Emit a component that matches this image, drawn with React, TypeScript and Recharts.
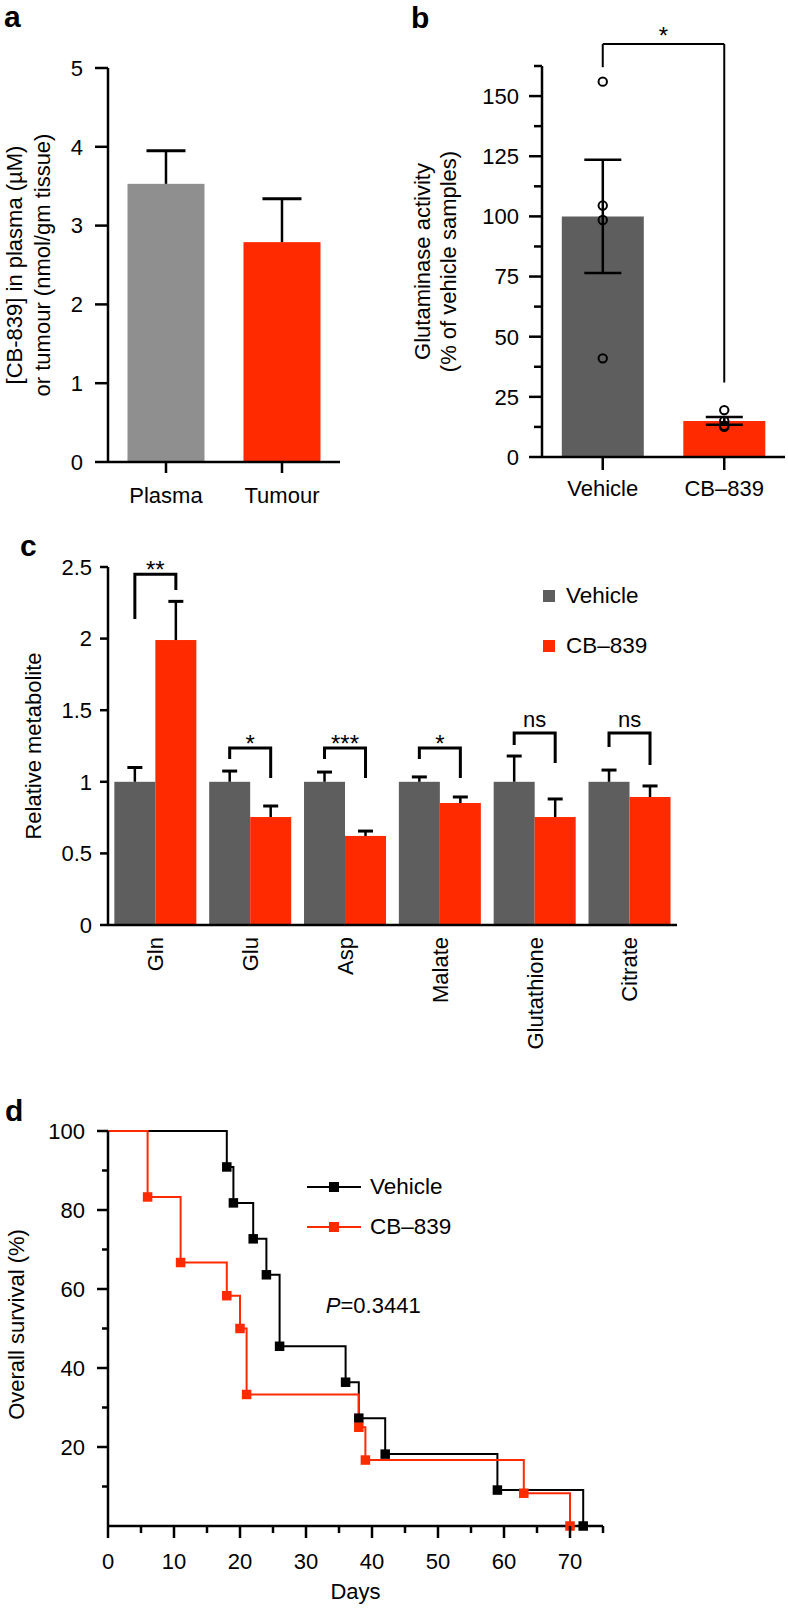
import React from 'react';
import {
  BarChart, Bar, ComposedChart, LineChart, Line, XAxis, YAxis, Cell,
  ErrorBar, Scatter, ReferenceLine, ReferenceDot, Legend,
} from 'recharts';

const FONT = '"Liberation Sans", Arial, Helvetica, sans-serif';
const RED = '#ff2a00';
const DARK = '#5e5e5e';
const LIGHT = '#8f8f8f';
const BLACK = '#000';
const AXIS = { stroke: BLACK, strokeWidth: 2.5 };

// ---------- Panel a ----------
const aCategories = ['Plasma', 'Tumour'];
const aValues = [3.53, 2.79];
const aErrors = [0.42, 0.55];
const aColors = [LIGHT, RED];
const aTicks = [0, 1, 2, 3, 4, 5];
const aTitle = ['[CB-839] in plasma (\u00b5M)', 'or tumour (nmol/gm tissue)'];

// ---------- Panel b ----------
const bCategories = ['Vehicle', 'CB\u2013839'];
const bValues = [100, 15];
const bErrors = [23.5, 1.6];
const bPoint1 = [156, 19.5];
const bPoint2 = [104.5, 15];
const bPoint3 = [98.5, 12.5];
const bPoint4 = [41, 13];
const bColors = [DARK, RED];
const bTicks = [0, 12.5, 25, 37.5, 50, 62.5, 75, 87.5, 100, 112.5, 125, 137.5, 150, 162.5];
const bBracketTop = 171.6;
const bBracketLeftEnd = 162;
const bBracketRightEnd = 31;
const bSignif = '*';
const bTitle = ['Glutaminase activity', '(% of vehicle samples)'];

// ---------- Panel c ----------
const cCategories = ['Gln', 'Glu', 'Asp', 'Malate', 'Glutathione', 'Citrate'];
const cVehicle = [1, 1, 1, 1, 1, 1];
const cVehicleErr = [0.10, 0.075, 0.068, 0.034, 0.18, 0.082];
const cCB839 = [1.99, 0.754, 0.622, 0.852, 0.754, 0.894];
const cCB839Err = [0.27, 0.077, 0.034, 0.042, 0.126, 0.077];
const cSignif = ['**', '*', '***', '*', 'ns', 'ns'];
const cBracketTop = [2.45, 1.236, 1.236, 1.236, 1.341, 1.341];
const cBracketLeftEnd = [2.137, 1.159, 1.159, 1.159, 1.257, 1.243];
const cBracketRightEnd = [2.34, 1.026, 1.026, 1.026, 1.131, 1.117];
const cTicks = [0, 0.5, 1, 1.5, 2, 2.5];
const cSeriesNames = ['Vehicle', 'CB\u2013839'];

// ---------- Panel d ----------
const dVehicleDays = [0, 18, 19, 22, 24, 26, 36, 38, 42, 59, 72];
const dVehicleSurvival = [100, 90.9, 81.8, 72.7, 63.6, 45.5, 36.4, 27.3, 18.2, 9.1, 0];
const dCB839Days = [0, 6, 11, 18, 20, 21, 38, 39, 63, 70];
const dCB839Survival = [100, 83.3, 66.7, 58.3, 50, 33.3, 25, 16.7, 8.3, 0];
const dXTicks = [0, 5, 10, 15, 20, 25, 30, 35, 40, 45, 50, 55, 60, 65, 70, 75];
const dYTicks = [10, 20, 30, 40, 50, 60, 70, 80, 90, 100];
const dPValueDay = 33;
const dPValueY = 56;

// ---------- data tables ----------
const aData = aCategories.map((name, i) => ({ name, value: aValues[i], err: aErrors[i] }));
const bData = bCategories.map((name, i) => ({
  name, value: bValues[i], err: bErrors[i],
  p1: bPoint1[i], p2: bPoint2[i], p3: bPoint3[i], p4: bPoint4[i],
}));
const cData = cCategories.map((name, i) => ({
  name, vehicle: cVehicle[i], vehicleErr: cVehicleErr[i], cb: cCB839[i], cbErr: cCB839Err[i],
}));
const dVehicle = dVehicleDays.map((day, i) => ({ day, surv: dVehicleSurvival[i] }));
const dCB839 = dCB839Days.map((day, i) => ({ day, surv: dCB839Survival[i] }));

// ---------- helpers ----------
const makeYTick = (cfg: any) => (props: any) => {
  const { x, y, payload } = props;
  const v = Number(payload.value);
  const major = cfg.major(v);
  const len = major ? cfg.majorLen : cfg.minorLen;
  return (
    <g>
      {len > 0 && <line x1={x - len} x2={x} y1={y} y2={y} stroke={BLACK} strokeWidth={2.5} />}
      {major && (
        <text x={x - len - cfg.gap} y={y} dy="0.355em" textAnchor="end" fontSize={cfg.fontSize}
          fontFamily={FONT} fill={BLACK}>{String(v)}</text>
      )}
    </g>
  );
};

const makeXTick = (cfg: any) => (props: any) => {
  const { x, y, payload } = props;
  const v = payload.value;
  const major = cfg.major(v);
  const len = major ? cfg.majorLen : cfg.minorLen;
  return (
    <g>
      {len > 0 && <line x1={x} x2={x} y1={y} y2={y + len} stroke={BLACK} strokeWidth={2.5} />}
      {major && (
        <text x={x} y={y + len + cfg.gap} dy="0.71em" textAnchor="middle" fontSize={cfg.fontSize}
          fontFamily={FONT} fill={BLACK}>{String(v)}</text>
      )}
    </g>
  );
};

const cXTick = (props: any) => {
  const { x, y, payload } = props;
  const ty = y + 12;
  return (
    <text x={x} y={ty} dy="0.355em" textAnchor="end" transform={`rotate(-90 ${x} ${ty})`}
      fontSize={22} fontFamily={FONT} fill={BLACK}>{payload.value}</text>
  );
};

const rotatedTitle = (lines: string[], xOffsets: number[], fontSize: number, dyc = 0) => (props: any) => {
  const vb = props && props.viewBox;
  if (!vb) return null;
  const cy = vb.y + vb.height / 2 + dyc;
  return (
    <g>
      {lines.map((t, i) => {
        const x = vb.x + xOffsets[i];
        return (
          <text key={i} x={x} y={cy} dy="0.355em" textAnchor="middle" transform={`rotate(-90 ${x} ${cy})`}
            fontSize={fontSize} fontFamily={FONT} fill={BLACK}>{t}</text>
        );
      })}
    </g>
  );
};

// Bar shape with one-sided (upper) error bar, optional extra annotation
const makeErrShape = (valueKey: string, errKey: string, capHalf: number, colors: string[] | null, extra?: any) =>
  (props: any) => {
    const { x, y, width, height, payload } = props;
    const idx = cCategories.indexOf(payload.name) >= 0 ? cCategories.indexOf(payload.name) : aCategories.indexOf(payload.name);
    const fill = colors ? colors[idx] : props.fill;
    const v = payload[valueKey];
    const e = payload[errKey];
    const base = y + height;
    const ppu = height / v;
    const yOf = (t: number) => base - t * ppu;
    const cx = x + width / 2;
    const ey = yOf(v + e);
    return (
      <g>
        <rect x={x} y={y} width={width} height={height} fill={fill} />
        <line x1={cx} x2={cx} y1={y} y2={ey} stroke={BLACK} strokeWidth={2.5} />
        <line x1={cx - capHalf} x2={cx + capHalf} y1={ey} y2={ey} stroke={BLACK} strokeWidth={3} />
        {extra ? extra(props, yOf, idx) : null}
      </g>
    );
  };

const cBracket = (props: any, yOf: (t: number) => number, i: number) => {
  const { x, width } = props;
  const lx = x - width / 2;
  const rx = x + width / 2;
  const top = yOf(cBracketTop[i]);
  const l = yOf(cBracketLeftEnd[i]);
  const r = yOf(cBracketRightEnd[i]);
  const s = cSignif[i];
  return (
    <g>
      <path d={`M${lx},${l} L${lx},${top} L${rx},${top} L${rx},${r}`} fill="none" stroke={BLACK} strokeWidth={3} />
      <text x={(lx + rx) / 2} y={s === 'ns' ? top - 6 : top + 4} textAnchor="middle"
        fontSize={s === 'ns' ? 22 : 24} fontFamily={FONT} fill={BLACK}>{s}</text>
    </g>
  );
};

const openCircle = (props: any) => (
  <circle cx={props.cx} cy={props.cy} r={4.2} fill="none" stroke={BLACK} strokeWidth={2} />
);

const squareDot = (color: string) => (props: any) => {
  const { cx, cy, index } = props;
  if (index === 0 || cx == null) return <g key={`d${index}`} />;
  return <rect key={`d${index}`} x={cx - 4.75} y={cy - 4.75} width={9.5} height={9.5} fill={color} />;
};

// ---------- charts ----------
function ChartA() {
  return (
    <BarChart width={394} height={520} data={aData} margin={{ top: 68, right: 54, bottom: 18, left: 0 }}
      barCategoryGap="16.8%">
      <YAxis type="number" domain={[0, 5]} ticks={aTicks} interval={0} width={108} tickSize={0} tickMargin={0}
        tickLine={false} axisLine={AXIS}
        tick={makeYTick({ major: () => true, majorLen: 13, minorLen: 0, gap: 12, fontSize: 22 })}
        label={rotatedTitle(aTitle, [14, 42], 22)} />
      <XAxis dataKey="name" height={40} tickSize={0} tickMargin={0} tickLine={false} axisLine={AXIS} interval={0}
        tick={makeXTick({ major: () => true, majorLen: 11, minorLen: 0, gap: 14, fontSize: 22 })} />
      <Bar dataKey="value" isAnimationActive={false} shape={makeErrShape('value', 'err', 19.5, aColors)}>
        {aData.map((d, i) => <Cell key={d.name} fill={aColors[i]} />)}
      </Bar>
    </BarChart>
  );
}

function ChartB() {
  return (
    <ComposedChart width={394} height={520} data={bData} margin={{ top: 66, right: 3, bottom: 23, left: 0 }}
      barCategoryGap="16.3%">
      <YAxis type="number" domain={[0, 162.5]} ticks={bTicks} interval={0} width={148} tickSize={0} tickMargin={0}
        tickLine={false} axisLine={AXIS}
        tick={makeYTick({ major: (v: number) => v % 25 === 0, majorLen: 13, minorLen: 8, gap: 10, fontSize: 22 })}
        label={rotatedTitle(bTitle, [28, 54], 22)} />
      <XAxis dataKey="name" height={40} tickSize={0} tickMargin={0} tickLine={false} axisLine={AXIS} interval={0}
        tick={makeXTick({ major: () => true, majorLen: 13, minorLen: 0, gap: 10, fontSize: 22 })} />
      <Bar dataKey="value" isAnimationActive={false}>
        {bData.map((d, i) => <Cell key={d.name} fill={bColors[i]} />)}
        <ErrorBar dataKey="err" width={18.5} stroke={BLACK} strokeWidth={2.5} isAnimationActive={false} />
      </Bar>
      <Scatter dataKey="p1" isAnimationActive={false} shape={openCircle} />
      <Scatter dataKey="p2" isAnimationActive={false} shape={openCircle} />
      <Scatter dataKey="p3" isAnimationActive={false} shape={openCircle} />
      <Scatter dataKey="p4" isAnimationActive={false} shape={openCircle} />
      <ReferenceLine ifOverflow="visible" stroke={BLACK} strokeWidth={2}
        segment={[{ x: bCategories[0], y: bBracketLeftEnd }, { x: bCategories[0], y: bBracketTop }]} />
      <ReferenceLine ifOverflow="visible" stroke={BLACK} strokeWidth={2}
        segment={[{ x: bCategories[0], y: bBracketTop }, { x: bCategories[1], y: bBracketTop }]}
        label={{ value: bSignif, position: 'top', offset: 0, fontSize: 24, fill: BLACK, fontFamily: FONT }} />
      <ReferenceLine ifOverflow="visible" stroke={BLACK} strokeWidth={2}
        segment={[{ x: bCategories[1], y: bBracketTop }, { x: bCategories[1], y: bBracketRightEnd }]} />
    </ComposedChart>
  );
}

const cLegend = () => (
  <div style={{ fontFamily: FONT, fontSize: 22.5, color: BLACK }}>
    {cSeriesNames.map((n, i) => (
      <div key={n} style={{ display: 'flex', alignItems: 'center', height: 50 }}>
        <span style={{ display: 'inline-block', width: 12, height: 12, background: i === 0 ? DARK : RED, marginRight: 11 }} />
        <span>{n}</span>
      </div>
    ))}
  </div>
);

function ChartC() {
  return (
    <BarChart width={788} height={560} data={cData} margin={{ top: 47, right: 111, bottom: 25, left: 0 }}
      barCategoryGap="6.7%" barGap={0}>
      <YAxis type="number" domain={[0, 2.5]} ticks={cTicks} interval={0} width={108} tickSize={0} tickMargin={0}
        tickLine={false} axisLine={AXIS}
        tick={makeYTick({ major: () => true, majorLen: 8, minorLen: 0, gap: 8, fontSize: 22 })}
        label={rotatedTitle(['Relative metabolite'], [33], 22)} />
      <XAxis dataKey="name" height={130} tickSize={0} tickMargin={0} tickLine={false} axisLine={AXIS} interval={0}
        tick={cXTick} />
      <Bar dataKey="vehicle" isAnimationActive={false} fill={DARK}
        shape={makeErrShape('vehicle', 'vehicleErr', 7.5, null)} />
      <Bar dataKey="cb" isAnimationActive={false} fill={RED}
        shape={makeErrShape('cb', 'cbErr', 7.5, null, cBracket)} />
      <Legend layout="vertical" align="center" verticalAlign="middle" content={cLegend}
        wrapperStyle={{ left: 543, top: 51, width: 200 }} />
    </BarChart>
  );
}

const dLegend = () => (
  <div style={{ fontFamily: FONT, fontSize: 22.5, color: BLACK }}>
    {[{ n: 'Vehicle', c: BLACK }, { n: 'CB\u2013839', c: RED }].map((it) => (
      <div key={it.n} style={{ display: 'flex', alignItems: 'center', height: 40 }}>
        <svg width={54} height={12} style={{ marginRight: 9 }}>
          <line x1={0} x2={54} y1={6} y2={6} stroke={it.c} strokeWidth={2} />
          <rect x={22} y={1} width={10} height={10} fill={it.c} />
        </svg>
        <span>{it.n}</span>
      </div>
    ))}
  </div>
);

const pLabel = (props: any) => {
  const vb = props && props.viewBox;
  if (!vb) return null;
  return (
    <text x={vb.x} y={vb.y + (vb.height || 0) / 2} dy="0.355em" fontSize={22} fontFamily={FONT} fill={BLACK}>
      <tspan fontStyle="italic">P</tspan>=0.3441
    </text>
  );
};

const daysLabel = (props: any) => {
  const vb = props && props.viewBox;
  if (!vb) return null;
  return (
    <text x={vb.x + vb.width / 2} y={vb.y + 73} textAnchor="middle" fontSize={22} fontFamily={FONT} fill={BLACK}>Days</text>
  );
};

function ChartD() {
  return (
    <LineChart width={788} height={528} margin={{ top: 51, right: 185, bottom: 2, left: 0 }}>
      <XAxis type="number" dataKey="day" domain={[0, 75]} ticks={dXTicks} interval={0} height={80}
        tickSize={0} tickMargin={0} tickLine={false} axisLine={AXIS}
        tick={makeXTick({ major: (v: number) => v % 10 === 0, majorLen: 12, minorLen: 7, gap: 15, fontSize: 22 })}
        label={daysLabel} />
      <YAxis type="number" domain={[0, 100]} ticks={dYTicks} interval={0} width={108} tickSize={0} tickMargin={0}
        tickLine={false} axisLine={AXIS}
        tick={makeYTick({ major: (v: number) => v % 20 === 0, majorLen: 11, minorLen: 6, gap: 12, fontSize: 22 })}
        label={rotatedTitle(['Overall survival (%)'], [16], 22, -4)} />
      <Line data={dVehicle} dataKey="surv" type="stepAfter" stroke={BLACK} strokeWidth={2}
        dot={squareDot(BLACK)} activeDot={false} isAnimationActive={false} />
      <Line data={dCB839} dataKey="surv" type="stepAfter" stroke={RED} strokeWidth={2}
        dot={squareDot(RED)} activeDot={false} isAnimationActive={false} />
      <ReferenceDot x={dPValueDay} y={dPValueY} r={0} fill="none" stroke="none" label={pLabel} />
      <Legend layout="vertical" align="center" verticalAlign="middle" content={dLegend}
        wrapperStyle={{ left: 307, top: 87, width: 250 }} />
    </LineChart>
  );
}

const letter = (left: number, top: number): React.CSSProperties => ({
  position: 'absolute', left, top, fontFamily: FONT, fontWeight: 'bold', fontSize: 30, lineHeight: '30px',
  color: BLACK, zIndex: 5,
});

export default function App() {
  return (
    <div style={{ position: 'absolute', left: 0, top: 0, width: 788, height: 1608, background: '#fff', overflow: 'hidden', fontFamily: FONT }}>
      <div style={{ position: 'absolute', left: 0, top: 0 }}><ChartA /></div>
      <div style={{ position: 'absolute', left: 394, top: 0 }}><ChartB /></div>
      <div style={{ position: 'absolute', left: 0, top: 520 }}><ChartC /></div>
      <div style={{ position: 'absolute', left: 0, top: 1080 }}><ChartD /></div>
      <div style={letter(4, 2)}>a</div>
      <div style={letter(411, 3)}>b</div>
      <div style={letter(20, 531)}>c</div>
      <div style={letter(5, 1096)}>d</div>
    </div>
  );
}
